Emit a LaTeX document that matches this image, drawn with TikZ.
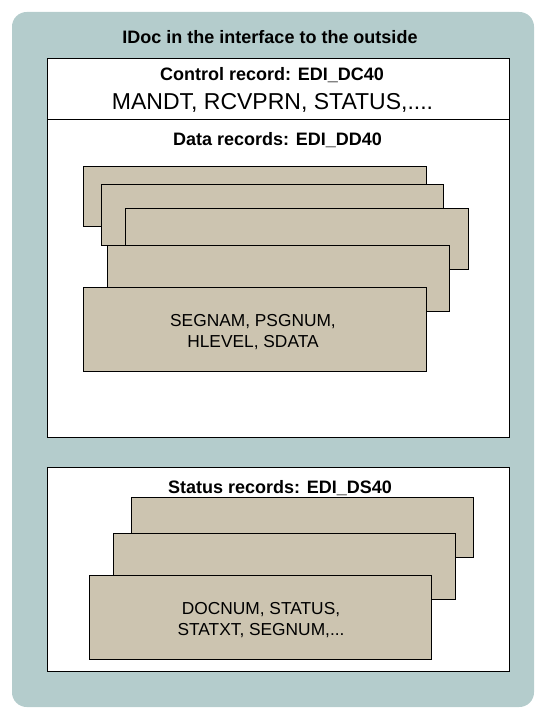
\documentclass[tikz,border=0pt]{standalone}
\usepackage{fontspec}
\setmainfont{Liberation Sans}
\definecolor{frame}{RGB}{180,204,204}
\definecolor{segment}{RGB}{204,196,176}

\begin{document}
\begin{tikzpicture}[x=0.75pt,y=-0.75pt,
        head/.style={anchor=base,font=\bfseries\fontsize{13.5}{16}\selectfont},
        fields/.style={align=center,font=\fontsize{13}{15.75}\selectfont},
        rec/.style={draw,fill=segment,line width=0.75pt},
        box/.style={draw,fill=white,line width=0.75pt}]
            \useasboundingbox (0,0) rectangle (540,720);
            \fill[frame, rounded corners=11pt] (12,12) rectangle (534,707);
            \node[head] (title) at (270,44) {IDoc in the interface to the outside};

            % control record
            \draw[box] (47,59) rectangle (509,120);
            \node[head] (control) at (272,81) {Control record: EDI\_DC40};
            \node[anchor=base, font=\fontsize{17.25}{20}\selectfont] (controlfields) at (272.5,110) {MANDT, RCVPRN, STATUS,....};

            % data records
            \draw[box] (47,120) rectangle (509,437);
            \node[head] (data) at (277.5,146) {Data records: EDI\_DD40};
            \draw[rec] (83,167) rectangle (426,227);
            \draw[rec] (101,185) rectangle (443,245);
            \draw[rec] (125,209) rectangle (468,269);
            \draw[rec] (107,245) rectangle (449,311);
            \draw[rec] (83,287) rectangle (426,371);
            \node[fields] (datafields) at (253,332.5) {SEGNAM, PSGNUM,\\HLEVEL, SDATA};

            % status records
            \draw[box] (47,467) rectangle (509,671);
            \node[head] (status) at (280,493) {Status records: EDI\_DS40};
            \draw[rec] (131,497) rectangle (473,557);
            \draw[rec] (113,533) rectangle (455,599);
            \draw[rec] (89,575) rectangle (431,659);
            \node[fields] (statusfields) at (261,620) {DOCNUM, STATUS,\\STATXT, SEGNUM,...};
        \end{tikzpicture}
\end{document}
